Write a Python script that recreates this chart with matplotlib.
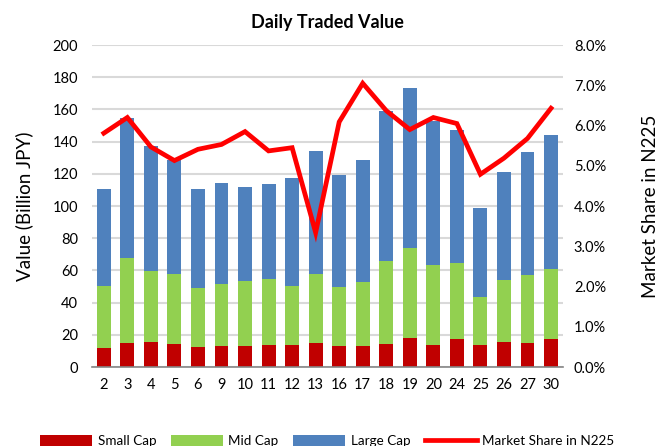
import matplotlib.pyplot as plt
import numpy as np
from matplotlib.ticker import PercentFormatter

plt.rcParams['font.family'] = ['Lato', 'DejaVu Sans']

days = ['2', '3', '4', '5', '6', '9', '10', '11', '12', '13',
        '16', '17', '18', '19', '20', '24', '25', '26', '27', '30']
total = [110.3, 154.4, 137.4, 128.5, 110.9, 114.4, 111.7, 113.6, 117.7, 133.9,
         119.2, 128.7, 159.3, 173.2, 153.0, 147.1, 98.5, 121.3, 133.5, 144.2]
small_mid = [50.1, 67.5, 59.6, 57.7, 49.0, 51.7, 53.4, 54.6, 50.1, 57.7,
             49.7, 52.6, 66.0, 73.9, 63.3, 64.8, 43.5, 53.8, 57.1, 60.8]
small_cap = [11.8, 14.9, 15.5, 14.5, 12.4, 13.0, 13.0, 13.7, 13.7, 14.9,
             13.0, 13.0, 14.3, 17.8, 13.4, 17.4, 13.7, 15.7, 14.9, 17.4]
market_share = [5.81, 6.20, 5.47, 5.13, 5.41, 5.53, 5.85, 5.37, 5.45, 3.34,
                6.09, 7.05, 6.37, 5.90, 6.20, 6.05, 4.79, 5.19, 5.68, 6.43]

small = np.array(small_cap)
mid = np.array(small_mid) - small
large = np.array(total) - np.array(small_mid)
x = np.arange(len(days))

fig = plt.figure(figsize=(6.64, 4.46), dpi=100)
ax = fig.add_axes([0.1386, 0.177, 0.709, 0.722])
ax2 = ax.twinx()

w = 0.59
b1 = ax.bar(x, small, w, color='#c00000', label='Small Cap', zorder=2)
b2 = ax.bar(x, mid, w, bottom=small, color='#92d050', label='Mid Cap', zorder=2)
b3 = ax.bar(x, large, w, bottom=small + mid, color='#4f81bd', label='Large Cap', zorder=2)
l1, = ax2.plot(x, market_share, color='#ff0000', lw=3.4, label='Market Share in N225',
               solid_joinstyle='miter')

ax.set_xlim(-0.5, len(days) - 0.5)
ax.set_ylim(0, 200)
ax.set_yticks(np.arange(0, 201, 20))
ax2.set_ylim(0, 8)
ax2.set_yticks(np.arange(0, 8.1, 1))
ax2.yaxis.set_major_formatter(PercentFormatter(decimals=1))
ax.set_xticks(x)
ax.set_xticklabels(days)

ax.grid(axis='y', color='#d9d9d9', lw=1.5, zorder=0)
ax.set_axisbelow(True)
for a in (ax, ax2):
    for s in ('top', 'left', 'right'):
        a.spines[s].set_visible(False)
    a.tick_params(length=0, labelsize=10.5)
ax.spines['bottom'].set_color('#868686')
ax.spines['bottom'].set_linewidth(1.2)
ax2.spines['bottom'].set_visible(False)
ax.tick_params(axis='x', pad=8)
ax.tick_params(axis='y', pad=10)
ax2.tick_params(axis='y', pad=8)

ax.set_title('Daily Traded Value', fontsize=13, fontweight='bold', pad=12)
ax.set_ylabel('Value (Billion JPY)', fontsize=13.5, labelpad=14)
ax2.set_ylabel('Market Share in N225', fontsize=13.5, labelpad=26)

ax.legend([b1, b2, b3, l1], ['Small Cap', 'Mid Cap', 'Large Cap', 'Market Share in N225'],
          loc='center', bbox_to_anchor=(0.5, -0.23), ncol=4, frameon=False,
          fontsize=9.7, handlelength=3.85, handleheight=0.9, handletextpad=0.4,
          columnspacing=1.1)

fig.savefig('out.png', dpi=100)
